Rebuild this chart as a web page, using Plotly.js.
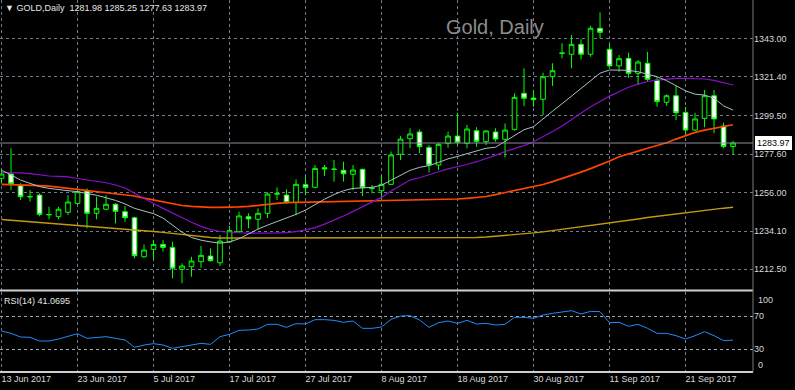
<!DOCTYPE html>
<html><head><meta charset="utf-8">
<script src="https://cdn.plot.ly/plotly-3.0.1.min.js"></script>
<style>html,body{margin:0;padding:0;background:#000;overflow:hidden}#chart{width:795px;height:390px}</style>
</head><body><div id="chart"></div>
<script>
const symbol = "GOLD";
const period = "Daily";
const chartTitle = "Gold, Daily";

const dates = [
 "2017-06-13","2017-06-14","2017-06-15","2017-06-16","2017-06-19","2017-06-20","2017-06-21","2017-06-22","2017-06-23","2017-06-26",
 "2017-06-27","2017-06-28","2017-06-29","2017-06-30","2017-07-03","2017-07-04","2017-07-05","2017-07-06","2017-07-07","2017-07-10",
 "2017-07-11","2017-07-12","2017-07-13","2017-07-14","2017-07-17","2017-07-18","2017-07-19","2017-07-20","2017-07-21","2017-07-24",
 "2017-07-25","2017-07-26","2017-07-27","2017-07-28","2017-07-31","2017-08-01","2017-08-02","2017-08-03","2017-08-04","2017-08-07",
 "2017-08-08","2017-08-09","2017-08-10","2017-08-11","2017-08-14","2017-08-15","2017-08-16","2017-08-17","2017-08-18","2017-08-21",
 "2017-08-22","2017-08-23","2017-08-24","2017-08-25","2017-08-28","2017-08-29","2017-08-30","2017-08-31","2017-09-01","2017-09-04",
 "2017-09-05","2017-09-06","2017-09-07","2017-09-08","2017-09-11","2017-09-12","2017-09-13","2017-09-14","2017-09-15","2017-09-18",
 "2017-09-19","2017-09-20","2017-09-21","2017-09-22","2017-09-25","2017-09-26","2017-09-27","2017-09-28"];

const openP = [
 1264.0,1266.4,1259.8,1253.4,1254.5,1243.3,1242.3,1244.8,1249.8,1256.8,
 1244.2,1246.5,1249.3,1245.1,1241.7,1219.6,1223.8,1226.6,1224.9,1212.5,
 1214.0,1216.8,1220.0,1216.2,1228.1,1233.8,1242.3,1240.8,1244.2,1255.0,
 1254.5,1250.4,1260.4,1258.9,1270.0,1269.0,1268.5,1266.3,1269.1,1258.2,
 1257.0,1260.6,1277.6,1286.4,1290.2,1281.5,1271.5,1283.8,1287.9,1283.8,
 1290.9,1284.7,1290.2,1286.1,1291.7,1312.1,1309.4,1308.7,1321.5,1334.6,
 1334.2,1339.8,1334.2,1348.9,1337.0,1327.6,1331.9,1323.4,1329.1,1319.6,
 1307.0,1310.7,1301.3,1291.3,1297.9,1310.7,1293.6,1281.98];
const highP = [
 1268.5,1281.0,1261.2,1257.4,1255.5,1247.9,1247.9,1254.5,1257.4,1258.3,
 1253.6,1254.5,1250.0,1248.3,1242.3,1226.6,1229.1,1229.1,1228.1,1215.9,
 1219.6,1225.7,1224.4,1231.9,1237.0,1245.1,1244.2,1247.0,1256.0,1258.9,
 1257.8,1263.4,1264.9,1271.5,1271.5,1274.4,1273.4,1271.5,1269.5,1260.2,
 1265.3,1279.1,1287.9,1292.3,1291.7,1282.8,1284.1,1290.4,1301.1,1294.2,
 1292.9,1291.3,1292.3,1295.1,1312.1,1326.2,1314.0,1323.8,1329.1,1340.4,
 1345.1,1342.7,1350.2,1357.9,1339.8,1333.8,1335.1,1330.9,1335.6,1321.5,
 1311.5,1316.2,1304.5,1301.1,1314.0,1314.0,1295.5,1285.25];
const lowP = [
 1261.0,1257.4,1251.7,1250.8,1242.5,1240.8,1240.8,1243.2,1249.0,1235.7,
 1240.8,1246.0,1238.5,1239.4,1218.7,1219.0,1217.8,1222.5,1207.4,1204.6,
 1208.3,1213.4,1216.8,1214.4,1227.6,1233.2,1235.7,1235.1,1241.5,1251.7,
 1249.5,1243.2,1254.5,1258.3,1265.3,1262.1,1262.1,1257.4,1254.0,1255.5,
 1251.2,1260.2,1274.4,1281.0,1278.2,1267.2,1268.7,1281.3,1282.8,1281.0,
 1281.9,1282.8,1284.7,1275.9,1291.0,1304.9,1304.5,1299.8,1316.2,1331.9,
 1326.2,1331.3,1332.8,1343.2,1327.2,1324.3,1320.9,1316.8,1318.7,1304.5,
 1305.1,1297.0,1288.5,1290.8,1292.9,1289.5,1281.0,1277.63];
const closeP = [
 1266.4,1260.9,1253.6,1253.7,1243.6,1243.5,1246.5,1250.6,1256.4,1244.2,
 1247.0,1249.3,1245.3,1241.7,1220.2,1223.4,1226.6,1224.9,1213.1,1214.4,
 1217.2,1220.4,1217.4,1228.5,1234.4,1242.7,1241.0,1244.2,1255.1,1255.3,
 1250.2,1260.6,1258.7,1269.6,1269.3,1269.2,1266.6,1268.7,1258.7,1258.5,
 1260.6,1277.2,1286.2,1289.1,1281.9,1271.5,1283.2,1287.9,1284.4,1291.9,
 1284.9,1290.8,1286.2,1291.3,1309.8,1309.3,1308.5,1321.5,1324.9,1334.9,
 1339.8,1334.2,1348.9,1346.6,1327.6,1331.7,1323.4,1329.8,1320.0,1307.4,
 1310.7,1301.1,1291.3,1297.6,1310.7,1297.6,1281.98,1283.97];

// moving averages
const maFast = [
 1268.5,1266.0,1263.0,1261.0,1259.3,1258.3,1257.5,1257.0,1256.4,1255.6,
 1254.4,1253.0,1251.5,1249.5,1247.0,1245.5,1244.0,1241.5,1237.5,1233.5,
 1230.5,1229.0,1228.0,1227.3,1228.0,1229.8,1232.5,1235.3,1237.5,1239.4,
 1241.5,1243.6,1246.0,1249.2,1252.2,1254.8,1257.0,1258.3,1258.4,1258.9,
 1260.1,1262.8,1265.5,1268.5,1270.2,1271.2,1273.0,1275.0,1276.4,1277.9,
 1279.6,1281.0,1281.6,1285.0,1288.0,1291.5,1293.2,1297.8,1302.0,1306.2,
 1310.5,1315.0,1319.6,1323.5,1325.3,1325.3,1325.1,1324.3,1323.0,1321.5,
 1319.3,1316.5,1313.5,1311.6,1311.1,1309.3,1305.0,1302.6];
const maMid = [
 1267.3,1267.3,1267.1,1266.6,1265.9,1265.3,1265.1,1264.8,1263.9,1263.1,
 1262.5,1261.5,1260.2,1258.5,1255.5,1252.5,1249.7,1247.0,1244.3,1241.7,
 1239.1,1236.8,1235.0,1233.9,1233.4,1233.2,1233.0,1232.9,1232.9,1233.1,
 1233.3,1233.8,1234.8,1236.1,1238.1,1240.3,1242.7,1245.3,1247.8,1250.4,
 1253.2,1256.8,1260.0,1263.0,1264.3,1265.8,1267.7,1269.3,1270.4,1271.8,
 1273.4,1275.0,1277.0,1279.2,1280.7,1282.5,1284.7,1287.5,1290.5,1293.6,
 1297.2,1301.0,1304.5,1307.5,1310.5,1313.0,1315.5,1317.3,1318.8,1319.6,
 1320.2,1320.5,1320.6,1320.5,1320.2,1319.4,1318.0,1316.8];
const maSlow = [
 1260.6,1260.5,1260.4,1260.3,1259.9,1259.6,1259.0,1258.2,1257.7,1257.1,
 1256.4,1255.8,1255.1,1254.5,1254.0,1252.8,1251.7,1250.6,1249.6,1248.6,
 1248.1,1247.7,1247.6,1247.6,1247.6,1247.8,1248.1,1248.8,1249.3,1249.8,
 1250.2,1250.3,1250.5,1250.6,1250.8,1250.9,1251.1,1251.2,1251.4,1251.5,
 1251.6,1251.7,1251.7,1251.7,1251.7,1251.8,1251.9,1252.1,1252.3,1252.7,
 1253.1,1253.7,1254.8,1255.9,1256.9,1258.0,1259.3,1260.5,1262.1,1263.8,
 1265.5,1267.5,1269.5,1271.5,1273.8,1276.2,1277.6,1279.4,1281.0,1282.6,
 1284.1,1286.2,1288.2,1290.0,1291.3,1292.3,1293.6,1294.3];
const maLong = [
 1240.7,1240.3,1239.9,1239.5,1239.1,1238.7,1238.3,1237.9,1237.5,1237.0,
 1236.7,1236.2,1235.8,1235.4,1235.0,1234.5,1233.9,1233.4,1232.8,1232.2,
 1231.5,1230.9,1230.5,1230.2,1230.2,1230.2,1230.2,1230.2,1230.2,1230.2,
 1230.2,1230.2,1230.2,1230.2,1230.2,1230.2,1230.2,1230.2,1230.2,1230.2,
 1230.2,1230.2,1230.2,1230.2,1230.2,1230.2,1230.2,1230.2,1230.2,1230.3,
 1230.5,1230.8,1231.2,1231.6,1232.1,1232.6,1233.1,1233.7,1234.4,1235.0,
 1235.7,1236.4,1237.1,1237.9,1238.7,1239.5,1240.3,1241.0,1241.8,1242.5,
 1243.3,1244.0,1244.7,1245.3,1246.0,1246.6,1247.1,1247.6];

const rsi = [
 52.0,49.2,44.8,44.4,40.0,40.0,42.4,45.2,48.8,43.2,
 44.4,45.2,43.2,41.2,32.4,35.2,36.8,35.2,31.2,33.2,
 34.4,37.2,36.0,45.2,48.0,52.8,53.2,54.4,60.0,60.0,
 56.4,60.8,60.4,65.6,65.6,64.8,62.4,64.0,55.2,55.2,
 56.8,66.0,70.0,70.4,65.2,56.4,62.0,64.0,61.2,64.8,
 60.4,61.2,59.2,60.0,68.4,68.4,67.2,71.2,73.2,75.2,
 76.4,72.4,75.6,75.2,62.0,62.4,57.6,60.0,55.2,49.2,
 49.2,46.4,42.4,46.4,51.2,46.4,40.5,41.0695];

const priceTicks = [1212.50,1234.10,1256.00,1277.60,1299.50,1321.40,1343.00,1364.90];
const rsiTicks = [30,70];
const rsiLabelTicks = [100,0];

const MON = ["Jan","Feb","Mar","Apr","May","Jun","Jul","Aug","Sep","Oct","Nov","Dec"];
const fmtDate = d => { const p = d.split("-"); return parseInt(p[2],10)+" "+MON[parseInt(p[1],10)-1]+" "+p[0]; };

const idx = dates.map((d,i)=>i);
const tickIdx = idx.filter(i => i % 8 === 0);
const last = dates.length - 1;

const FONT = "Liberation Sans, Arial, sans-serif";
const TXT = "#d8d8d8";
const GRID = "#6f7b8c";

const traces = [
 {type:"candlestick", x:idx, open:openP, high:highP, low:lowP, close:closeP,
  xaxis:"x", yaxis:"y", whiskerwidth:0, hoverinfo:"skip",
  increasing:{line:{color:"#00ff00",width:1}, fillcolor:"#000000"},
  decreasing:{line:{color:"#00ff00",width:1}, fillcolor:"#ffffff"}},
 {type:"scatter", mode:"lines", x:idx, y:maLong, line:{color:"#c09a10",width:1.4}, yaxis:"y", hoverinfo:"skip"},
 {type:"scatter", mode:"lines", x:idx, y:maSlow, line:{color:"#ff4500",width:1.7}, yaxis:"y", hoverinfo:"skip"},
 {type:"scatter", mode:"lines", x:idx, y:maMid, line:{color:"#8a10c8",width:1.2}, yaxis:"y", hoverinfo:"skip"},
 {type:"scatter", mode:"lines", x:idx, y:maFast, line:{color:"#a8c2c2",width:1}, yaxis:"y", hoverinfo:"skip"},
 {type:"scatter", mode:"lines", x:idx, y:rsi, line:{color:"#1e8cff",width:1}, yaxis:"y2", hoverinfo:"skip"}
];

const H = 372; // plot height in px
const layout = {
 width:795, height:390,
 paper_bgcolor:"#000000", plot_bgcolor:"#000000",
 margin:{l:0, r:42, t:0, b:18},
 showlegend:false,
 font:{family:FONT, size:9, color:TXT},
 xaxis:{range:[-0.16,79.1], anchor:"y2", tickvals:tickIdx, ticktext:tickIdx.map(i=>fmtDate(dates[i])),
   showgrid:true, gridcolor:GRID, griddash:"dot", gridwidth:1, zeroline:false, showline:false, ticks:"",
   rangeslider:{visible:false}, ticklabelposition:"outside right", tickfont:{family:FONT,size:9,color:TXT}, fixedrange:true},
 yaxis:{domain:[(H-290)/H,1], range:[1200.8,1364.9], side:"right", anchor:"x",
   tickvals:priceTicks, ticktext:priceTicks.map(v=>v.toFixed(2)),
   showgrid:true, gridcolor:GRID, griddash:"dot", zeroline:false, showline:false, ticks:"",
   tickfont:{family:FONT,size:9,color:TXT}},
 yaxis2:{domain:[0,(H-292)/H], range:[2.8,98.8], side:"right", anchor:"x",
   tickvals:rsiTicks, ticktext:rsiTicks.map(String),
   showgrid:true, gridcolor:"#a8a8a8", griddash:"dot", zeroline:false, showline:false, ticks:"",
   tickfont:{family:FONT,size:9,color:TXT}},
 shapes:[
  {type:"line", xref:"paper", yref:"y", x0:0, x1:1, y0:closeP[last], y1:closeP[last], line:{color:"#8c8c9c",width:1}},
  {type:"line", xref:"paper", yref:"paper", x0:0, x1:1, y0:(H-290.5)/H, y1:(H-290.5)/H, line:{color:"#cfcfcf",width:2}},
  {type:"line", xref:"paper", yref:"paper", x0:0, x1:1, y0:0, y1:0, line:{color:"#cfcfcf",width:2}},
  {type:"line", xref:"paper", yref:"paper", x0:1, x1:1, y0:0, y1:1, line:{color:"#7a7a7a",width:1}}
 ],
 annotations:[
  {xref:"paper", yref:"paper", x:0, y:1, xanchor:"left", yanchor:"top", xshift:3, yshift:-1, showarrow:false,
   text:"\u25BC "+symbol+","+period+"  "+[openP[last],highP[last],lowP[last],closeP[last]].map(v=>v.toFixed(2)).join(" "),
   font:{family:FONT,size:9,color:"#e6e6e6"}},
  {xref:"paper", yref:"paper", x:495/753, y:(H-26.5)/H, xanchor:"center", yanchor:"middle", showarrow:false,
   text:chartTitle, font:{family:FONT,size:20,color:"#8c8c8c"}},
  {xref:"paper", yref:"y", x:1, y:closeP[last], xanchor:"left", yanchor:"middle", xshift:2, showarrow:false,
   text:closeP[last].toFixed(2), bgcolor:"#ffffff", bordercolor:"#ffffff", borderpad:1,
   font:{family:FONT,size:9,color:"#000000"}},
  {xref:"paper", yref:"y2 domain", x:0, y:1, xanchor:"left", yanchor:"top", xshift:2, yshift:-2, showarrow:false,
   text:"RSI(14) "+rsi[last].toFixed(4), font:{family:FONT,size:9,color:"#e6e6e6"}},
  {xref:"paper", yref:"y2 domain", x:1, y:1, xanchor:"left", yanchor:"top", xshift:3, yshift:-1, showarrow:false,
   text:String(rsiLabelTicks[0]), font:{family:FONT,size:9,color:TXT}},
  {xref:"paper", yref:"y2 domain", x:1, y:0, xanchor:"left", yanchor:"bottom", xshift:3, yshift:0, showarrow:false,
   text:String(rsiLabelTicks[1]), font:{family:FONT,size:9,color:TXT}}
 ]
};

Plotly.newPlot("chart", traces, layout, {staticPlot:true, displayModeBar:false});
</script>
</body></html>
